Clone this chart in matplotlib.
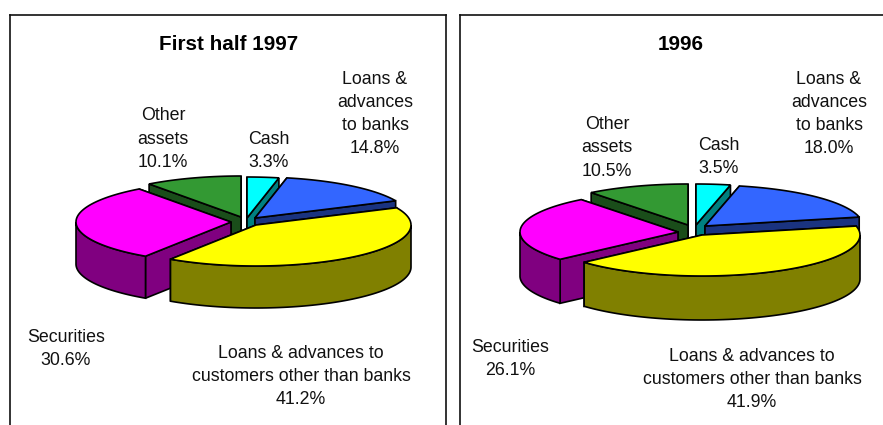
import numpy as np
import matplotlib
matplotlib.use('Agg')
import matplotlib.pyplot as plt
from matplotlib.patches import Polygon

plt.rcParams['font.family'] = ['Liberation Sans', 'DejaVu Sans']

# slice shares, clockwise from 12 o'clock
categories = ['Cash', 'Loans & advances\nto banks', 'Loans & advances to\ncustomers other than banks',
              'Securities', 'Other\nassets']
values_1997 = [3.3, 14.8, 41.2, 30.6, 10.1]
values_1996 = [3.5, 18.0, 41.9, 26.1, 10.5]

label_1997 = ['Cash\n3.3%', 'Loans &\nadvances\nto banks\n14.8%',
              'Loans & advances to\ncustomers other than banks\n41.2%',
              'Securities\n30.6%', 'Other\nassets\n10.1%']
label_1996 = ['Cash\n3.5%', 'Loans &\nadvances\nto banks\n18.0%',
              'Loans & advances to\ncustomers other than banks\n41.9%',
              'Securities\n26.1%', 'Other\nassets\n10.5%']

top_colors = ['#00FFFF', '#3366FF', '#FFFF00', '#FF00FF', '#339933']
side_colors = ['#008080', '#1A3380', '#808000', '#800080', '#1A4D1A']

# layout, in pixels of the picture
apex_1997 = [(247, 218), (255, 218), (256, 225), (231, 222), (241, 217)]
apex_1996 = [(696, 225), (705, 226), (702, 235), (678, 232), (688, 225)]
labelpos_1997 = [(269, 151), (375, 114), (301, 376.5), (66, 349), (163, 139)]
labelpos_1996 = [(719, 157), (829, 114), (752, 379.5), (510, 359), (607, 148)]

# back slices first so the front ones cover them
draw_order = [4, 0, 1, 3, 2]


def ell(apex, theta, rx, ry):
    return apex[0] + rx * np.sin(theta), apex[1] - ry * np.cos(theta)


def draw_slice(ax, apex, a, b, top, side, rx, ry, depth):
    lw = 1.2
    # the two cut faces, the one further back goes first
    for t in sorted([a, b], key=lambda k: -np.cos(k)):
        x, y = ell(apex, t, rx, ry)
        pts = [apex, (x, y), (x, y + depth), (apex[0], apex[1] + depth)]
        ax.add_patch(Polygon(pts, closed=True, fc=side, ec='black', lw=lw))
    # outer wall, only the part that faces the viewer
    lo = max(a, np.pi / 2)
    hi = min(b, 3 * np.pi / 2)
    if hi > lo:
        t = np.linspace(lo, hi, 80)
        x, y = ell(apex, t, rx, ry)
        pts = np.vstack([np.column_stack([x, y]), np.column_stack([x, y + depth])[::-1]])
        ax.add_patch(Polygon(pts, closed=True, fc=side, ec='black', lw=lw))
    # top
    t = np.linspace(a, b, 120)
    x, y = ell(apex, t, rx, ry)
    pts = np.vstack([[apex], np.column_stack([x, y])])
    ax.add_patch(Polygon(pts, closed=True, fc=top, ec='black', lw=lw))


def panel(rect, right_line, title, title_x, values, labels, apexes, labelpos, rx, ry, depth):
    x0, x1, y0 = rect
    ax = fig.add_axes([x0 / W, 0, (x1 - x0) / W, (H - y0) / H])
    ax.set_xlim(x0, x1)
    ax.set_ylim(H, y0)
    ax.set_xticks([])
    ax.set_yticks([])
    ax.spines['bottom'].set_visible(False)
    ax.spines['right'].set_visible(right_line)
    for s in ax.spines.values():
        s.set_linewidth(1.2)
        s.set_color('#111111')
    ax.patch.set_alpha(0)

    edges = np.cumsum([0] + values) / sum(values) * 2 * np.pi
    for i in draw_order:
        draw_slice(ax, apexes[i], edges[i], edges[i + 1], top_colors[i], side_colors[i], rx, ry, depth)

    ax.text(title_x, 44.5, title, ha='center', va='center', fontsize=14.9, fontweight='bold')
    for lab, pos in zip(labels, labelpos):
        ax.text(pos[0], pos[1], lab, ha='center', va='center', fontsize=12.8,
                linespacing=1.48, color='#111111')


W, H = 883, 425
fig = plt.figure(figsize=(W / 100, H / 100), dpi=100, facecolor='white')

panel((10, 446, 15), True, 'First half 1997', 229, values_1997, label_1997,
      apex_1997, labelpos_1997, 155, 41, 42)
panel((460, 890, 15), False, '1996', 681, values_1996, label_1996,
      apex_1996, labelpos_1996, 158, 41, 44)

fig.savefig('out.png', dpi=100)
